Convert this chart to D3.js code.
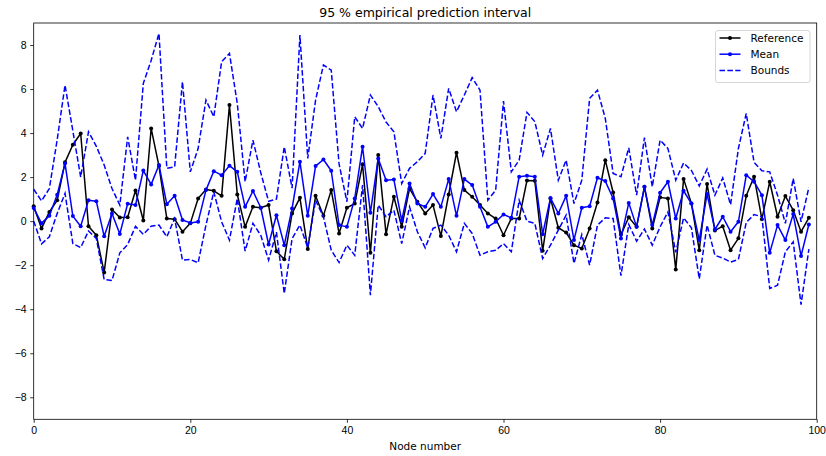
<!DOCTYPE html>
<html>
<head>
<meta charset="utf-8">
<script src="https://cdn.jsdelivr.net/npm/d3@7"></script>
<style>
  body { margin: 0; background: #fff; }
  svg { font-family: "DejaVu Sans", sans-serif; display: block; }
  .axis path, .axis line { stroke: #000; stroke-width: 0.8; }
  .axis text { font-size: 10.5px; fill: #000; }
</style>
</head>
<body>
<div class="chart"></div>
<script>
// Values per node (0..99)

const reference = [
  0.68, -0.33, 0.42, 0.95, 2.67, 3.47, 3.98, -0.23, -0.64, -2.33,
  0.53, 0.17, 0.18, 1.39, 0.03, 4.21, 2.5, 0.12, 0.09, -0.48,
  -0.1, 1.03, 1.44, 1.38, 1.15, 5.27, 1.21, -0.26, 0.65, 0.61,
  0.73, -1.37, -1.73, 0.35, 1.06, -1.27, 1.15, 0.24, 1.41, -0.56,
  0.61, 0.8, 2.58, -1.44, 3.0, -0.59, 1.11, -0.26, 1.48, 0.88,
  0.35, 0.73, -0.68, 1.21, 3.11, 1.41, 1.11, 0.73, 0.35, 0.12,
  -0.64, 0.12, 0.12, 1.85, 1.83, -1.35, 1.03, -0.3, -0.52, -1.09,
  -1.24, -0.33, 0.85, 2.77, 1.3, -0.61, 0.18, -0.26, 1.56, -0.33,
  1.08, 1.03, -2.2, 1.92, 0.8, -1.32, 1.69, -0.43, -0.23, -1.32,
  -0.78, 1.15, 2.02, 0.09, 1.79, 0.2, 1.14, 0.5, -0.48, 0.15
];

const mean = [
  0.6, -0.1, 0.25, 1.2, 2.62, 0.23, -0.23, 0.95, 0.9, -0.69,
  0.35, -0.58, 0.79, 0.73, 2.3, 1.67, 2.55, 0.77, 1.15, 0.05,
  -0.08, -0.03, 1.41, 2.27, 2.09, 2.52, 2.24, 0.65, 1.37, 0.61,
  -1.06, 0.27, -1.09, 0.58, 2.7, 0.24, 2.5, 2.8, 2.29, -0.18,
  -0.26, 1.03, 3.38, 0.38, 2.85, 1.86, 1.89, 0.02, 1.71, 0.8,
  0.65, 1.23, 0.65, 1.91, 0.24, 1.91, 1.64, 0.65, -0.26, -0.03,
  0.3, 0.15, 2.02, 2.06, 2.02, -0.59, 1.05, 0.35, 1.15, -0.86,
  0.61, 0.68, 1.97, 1.82, 1.03, -0.79, 0.83, -0.26, 1.56, -0.18,
  1.29, 1.79, 0.12, 1.38, 0.8, -0.86, 1.23, -0.38, 0.2, -0.48,
  -0.03, 2.09, 1.79, 1.18, -1.44, -0.18, -0.86, 0.32, -1.58, -0.15
];

const upper = [
  1.45, 0.92, 1.48, 3.7, 6.18, 4.1, 2.0, 4.06, 3.4, 2.55,
  1.48, 0.73, 3.83, 1.86, 6.26, 7.3, 8.53, 2.4, 2.47, 6.33,
  2.24, 3.3, 5.5, 4.74, 7.24, 7.62, 5.35, 1.79, 3.68, 2.2,
  0.9, 1.0, 3.38, 1.5, 8.45, 2.85, 5.5, 7.09, 6.86, 2.6,
  0.88, 4.74, 4.21, 5.73, 5.2, 4.5, 4.06, 1.71, 2.4, 2.7,
  3.08, 5.73, 3.76, 6.03, 4.97, 5.73, 6.52, 5.95, 0.95, 1.41,
  5.45, 2.24, 2.77, 4.94, 4.52, 3.0, 4.21, 1.86, 2.77, 0.8,
  1.86, 5.58, 5.95, 4.67, 2.17, 2.02, 3.33, 1.18, 3.79, 1.56,
  3.68, 3.3, 1.86, 2.64, 2.3, 1.6, 2.36, 1.18, 1.96, 0.75,
  3.3, 4.89, 2.67, 2.29, 2.24, 1.18, -0.1, 1.94, -0.03, 1.53
];

const lower = [
  0.0, -1.03, -0.71, 0.35, 1.26, -1.02, -1.2, -0.45, -0.79, -2.65,
  -2.7, -1.44, -1.06, -0.24, -0.6, -0.23, -0.18, -0.71, 0.12, -1.77,
  -1.74, -1.89, -0.18, 1.33, -0.03, -0.86, 1.03, -1.36, -0.1, -0.64,
  -1.77, -0.5, -3.29, -0.79, -0.18, -1.21, 0.95, 0.2, -1.32, -1.88,
  -1.09, -1.55, 1.64, -3.36, 0.73, 0.2, 0.5, -1.02, 0.65, -0.48,
  -1.21, -0.33, -0.18, -0.64, -1.39, -0.1, -0.56, -1.55, -1.39, -1.32,
  -1.02, -1.39, 0.95, 0.0, -0.1, -1.7, -1.09, -0.41, 0.27, -1.92,
  -0.61, -2.0, -0.18, 0.15, 0.12, -2.48, -0.15, -0.91, -0.36, -1.09,
  -0.26, 0.42, -1.42, 0.15, -0.3, -2.62, -0.18, -1.55, -1.68, -1.86,
  -1.74, -0.06, 0.3, 0.2, -3.06, -2.91, -1.39, -0.94, -3.79, -1.27
];

const xTicks = [0, 20, 40, 60, 80, 100];
const yTicks = [-8, -6, -4, -2, 0, 2, 4, 6, 8];
const legendItems = ["Reference", "Mean", "Bounds"];

// Measurements

const width = 826;
const height = 456;
const margin = { top: 23, right: 9.3, bottom: 36.7, left: 33.7 };
const w = width - margin.left - margin.right;
const h = height - margin.top - margin.bottom;

const svg = d3
  .select(".chart")
  .append("svg")
  .attr("width", width)
  .attr("height", height);

const g = svg
  .append("g")
  .attr("transform", `translate(${margin.left}, ${margin.top})`);

// Scales

const xScale = d3.scaleLinear().domain([0, 100]).range([0, w]);
const yScale = d3.scaleLinear().domain([-9, 9]).range([h, 0]);

const line = d3
  .line()
  .x((d, i) => xScale(i))
  .y((d) => yScale(d));

// Series

g.append("path")
  .datum(reference)
  .attr("fill", "none")
  .attr("stroke", "#000")
  .attr("stroke-width", 1.5)
  .attr("stroke-linejoin", "round")
  .attr("d", line);

g.selectAll(".dot-ref")
  .data(reference)
  .enter()
  .append("circle")
  .attr("class", "dot-ref")
  .attr("cx", (d, i) => xScale(i))
  .attr("cy", (d) => yScale(d))
  .attr("r", 2)
  .attr("fill", "#000");

g.append("path")
  .datum(mean)
  .attr("fill", "none")
  .attr("stroke", "#0000ff")
  .attr("stroke-width", 1.5)
  .attr("stroke-linejoin", "round")
  .attr("d", line);

g.selectAll(".dot-mean")
  .data(mean)
  .enter()
  .append("circle")
  .attr("class", "dot-mean")
  .attr("cx", (d, i) => xScale(i))
  .attr("cy", (d) => yScale(d))
  .attr("r", 2)
  .attr("fill", "#0000ff");

[upper, lower].forEach((series) => {
  g.append("path")
    .datum(series)
    .attr("fill", "none")
    .attr("stroke", "#0000ff")
    .attr("stroke-width", 1.5)
    .attr("stroke-dasharray", "5.5,2.4")
    .attr("d", line);
});

// Axes

g.append("g")
  .attr("class", "axis")
  .attr("transform", `translate(0, ${h})`)
  .call(d3.axisBottom(xScale).tickValues(xTicks).tickSize(3.5).tickPadding(3.5));

g.append("g")
  .attr("class", "axis")
  .call(d3.axisLeft(yScale).tickValues(yTicks).tickSize(3.5).tickPadding(3.5));

g.append("rect")
  .attr("width", w)
  .attr("height", h)
  .attr("fill", "none")
  .attr("stroke", "#000")
  .attr("stroke-width", 0.8);

g.selectAll(".axis .domain").remove();

// Title and label

svg
  .append("text")
  .attr("x", margin.left + w / 2)
  .attr("y", 17)
  .attr("text-anchor", "middle")
  .attr("font-size", "12.5px")
  .text("95 % empirical prediction interval");

svg
  .append("text")
  .attr("x", margin.left + w / 2)
  .attr("y", 450)
  .attr("text-anchor", "middle")
  .attr("font-size", "10.5px")
  .text("Node number");

// Legend

const legend = svg.append("g").attr("transform", "translate(715.5, 30.5)");

legend
  .append("rect")
  .attr("width", 94.5)
  .attr("height", 52)
  .attr("rx", 2.5)
  .attr("fill", "rgba(255,255,255,0.8)")
  .attr("stroke", "#cccccc")
  .attr("stroke-width", 0.8);

const items = legend
  .selectAll(".item")
  .data(legendItems)
  .enter()
  .append("g")
  .attr("class", "item")
  .attr("transform", (d, i) => `translate(4, ${7.5 + i * 16.2})`);

items
  .append("line")
  .attr("x1", 0)
  .attr("x2", 21)
  .attr("stroke", (d, i) => (i === 0 ? "#000" : "#0000ff"))
  .attr("stroke-width", 1.5)
  .attr("stroke-dasharray", (d, i) => (i === 2 ? "5.5,2.4" : null));

items
  .filter((d, i) => i < 2)
  .append("circle")
  .attr("cx", 10.5)
  .attr("r", 2)
  .attr("fill", (d, i) => (i === 0 ? "#000" : "#0000ff"));

items
  .append("text")
  .attr("x", 31)
  .attr("y", 3.8)
  .attr("font-size", "10.5px")
  .text((d) => d);
</script>
</body>
</html>
